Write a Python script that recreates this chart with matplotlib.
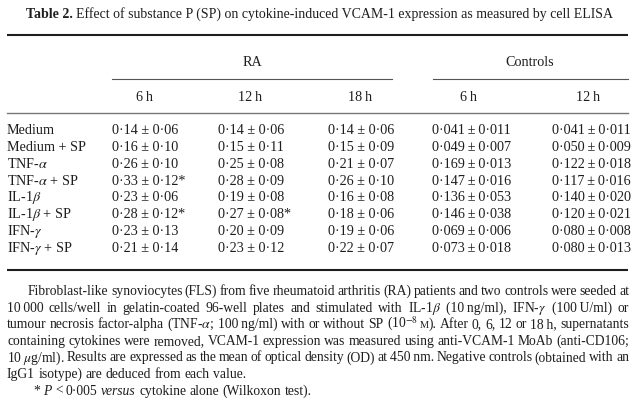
import matplotlib
matplotlib.use("Agg")
import matplotlib.pyplot as plt

plt.rcParams['font.family'] = ['Liberation Serif', 'DejaVu Serif']
plt.rcParams['mathtext.fontset'] = 'stix'

W, H = 635, 403
INK = '#1e1e1e'

title_bold = "Table 2."
title_rest = "Effect of substance P (SP) on cytokine-induced VCAM-1 expression as measured by cell ELISA"

groups = ["RA", "Controls"]
times = ["6 h", "12 h", "18 h", "6 h", "12 h"]
treatments = ["Medium", "Medium + SP", r"TNF-$\alpha$", r"TNF-$\alpha$ + SP",
              r"IL-1$\beta$", r"IL-1$\beta$ + SP", r"IFN-$\gamma$", r"IFN-$\gamma$ + SP"]

ra_6h_mean = [0.14, 0.16, 0.26, 0.33, 0.23, 0.28, 0.23, 0.21]
ra_6h_sd = [0.06, 0.10, 0.10, 0.12, 0.06, 0.12, 0.13, 0.14]
ra_6h_sig = [0, 0, 0, 1, 0, 1, 0, 0]
ra_12h_mean = [0.14, 0.15, 0.25, 0.28, 0.19, 0.27, 0.20, 0.23]
ra_12h_sd = [0.06, 0.11, 0.08, 0.09, 0.08, 0.08, 0.09, 0.12]
ra_12h_sig = [0, 0, 0, 0, 0, 1, 0, 0]
ra_18h_mean = [0.14, 0.15, 0.21, 0.26, 0.16, 0.18, 0.19, 0.22]
ra_18h_sd = [0.06, 0.09, 0.07, 0.10, 0.08, 0.06, 0.06, 0.07]
ra_18h_sig = [0, 0, 0, 0, 0, 0, 0, 0]
ctl_6h_mean = [0.041, 0.049, 0.169, 0.147, 0.136, 0.146, 0.069, 0.073]
ctl_6h_sd = [0.011, 0.007, 0.013, 0.016, 0.053, 0.038, 0.006, 0.018]
ctl_6h_sig = [0, 0, 0, 0, 0, 0, 0, 0]
ctl_12h_mean = [0.041, 0.050, 0.122, 0.117, 0.140, 0.120, 0.080, 0.080]
ctl_12h_sd = [0.011, 0.009, 0.018, 0.016, 0.020, 0.021, 0.008, 0.013]
ctl_12h_sig = [0, 0, 0, 0, 0, 0, 0, 0]

TS = '\u2009'  # thin space inside a word
para_lines = [
    "Fibroblast-like synoviocytes (FLS) from five rheumatoid arthritis (RA) patients and two controls were seeded at",
    "10" + TS + "000 cells/well in gelatin-coated 96-well plates and stimulated with IL-1$\\beta$ (10" + TS + "ng/ml), "
    "IFN-$\\gamma$ (100" + TS + "U/ml) or",
    "tumour necrosis factor-alpha (TNF-$\\alpha$; 100" + TS + "ng/ml) with or without SP (10$^{-8}$" + TS + "<M>). "
    "After 0, 6, 12 or 18" + TS + "h, supernatants",
    "containing cytokines were removed, VCAM-1 expression was measured using anti-VCAM-1 MoAb (anti-CD106;",
    "10" + TS + "$\\mu$g/ml). Results are expressed as the mean of optical density (OD) at 450" + TS + "nm. "
    "Negative controls (obtained with an",
    "IgG1 isotype) are deduced from each value.",
    "* <i>P</i> < 0\u00b7005 <i>versus</i> cytokine alone (Wilkoxon test).",
]

fig = plt.figure(figsize=(W / 100, H / 100), dpi=100)
fig.patch.set_facecolor('white')
ax = fig.add_axes([0, 0, 1, 1])
ax.set_xlim(0, W)
ax.set_ylim(H, 0)
ax.axis('off')
r = fig.canvas.get_renderer()


def width(t):
    return t.get_window_extent(r).width


def txt(x, y, s, size, **kw):
    kw.setdefault('ha', 'left')
    return ax.text(x, y, s, fontsize=size, va='baseline', color=INK, **kw)


def word_parts(w):
    # "<M>" marks a small capital M, <i>..</i> an italic word
    if '<M>' in w:
        a, b = w.split('<M>')
        return [(a, {}), ('M', {'small': True}), (b, {})]
    if w.startswith('<i>'):
        return [(w[3:-4], {'style': 'italic'})]
    return [(w, {})]


def draw_word(x, y, w, size, dry=False):
    x0 = x
    for s, kw in word_parts(w):
        if not s:
            continue
        t = txt(x, y, s, size * (0.75 if kw.get('small') else 1),
                style=kw.get('style', 'normal'))
        x += width(t)
        if dry:
            t.remove()
    return x - x0


def draw_line(x0, x1, y, line, size, justify=True):
    words = line.split(' ')
    ws = [draw_word(0, -50, w, size, dry=True) for w in words]
    probe1 = txt(0, -50, 'a a', size)
    probe2 = txt(0, -50, 'aa', size)
    sp = width(probe1) - width(probe2)
    probe1.remove()
    probe2.remove()
    if justify and len(words) > 1:
        sp = (x1 - x0 - sum(ws)) / (len(words) - 1)
    x = x0
    for w, wd in zip(words, ws):
        draw_word(x, y, w, size)
        x += wd + sp


def fmt(v, nd):
    return f"{v:.{nd}f}".replace('.', '\u00b7')


# title, sized to span the same width as the reference
tsize = 10
tb = txt(0, -50, title_bold + ' ', tsize, weight='bold')
tr = txt(0, -50, title_rest, tsize)
scale = 586 / (width(tb) + width(tr))
tb.remove()
tr.remove()
tsize *= scale
tb = txt(26, 18, title_bold + ' ', tsize, weight='bold')
txt(26 + width(tb), 18, title_rest, tsize)

# rules
ax.plot([7, 628], [35, 35], color=INK, lw=1.5, solid_capstyle='butt')
ax.plot([112, 392], [79, 79], color='#555555', lw=0.8)
ax.plot([433, 628], [79, 79], color='#555555', lw=0.8)
ax.plot([7, 628], [113, 113], color='#777777', lw=1.0)
ax.plot([7, 628], [270, 270], color=INK, lw=1.5, solid_capstyle='butt')

size = 10.2
txt(252, 66, groups[0], size, ha='center')
txt(530, 66, groups[1], size, ha='center')

col_left = [112, 218, 328, 432, 552]
col_mid = [145, 250, 360, 468, 588]
for x, lab in zip(col_mid, times):
    txt(x, 101, lab.replace(' ', TS), size, ha='center')

cols = [(ra_6h_mean, ra_6h_sd, ra_6h_sig, 2), (ra_12h_mean, ra_12h_sd, ra_12h_sig, 2),
        (ra_18h_mean, ra_18h_sd, ra_18h_sig, 2), (ctl_6h_mean, ctl_6h_sd, ctl_6h_sig, 3),
        (ctl_12h_mean, ctl_12h_sd, ctl_12h_sig, 3)]

row_y0, row_step = 134, 16.85
for i, lab in enumerate(treatments):
    y = row_y0 + i * row_step
    txt(7, y, lab, size)
    for (m, s, sig, nd), x in zip(cols, col_left):
        sep = ' \u00b1 ' if nd == 2 else TS + '\u00b1' + TS
        label = fmt(m[i], nd) + sep + fmt(s[i], nd) + ('*' if sig[i] else '')
        txt(x, y, label, size)

# legend text below the table
psize = 9.85
py0, pstep = 295, 16.6
n_just = 5
for k, line in enumerate(para_lines):
    y = py0 + k * pstep
    left = 28 if k == 0 else (33 if k == len(para_lines) - 1 else 7)
    draw_line(left, 629, y, line, psize, justify=(k < n_just))

fig.savefig('out.png', dpi=100, facecolor='white')
